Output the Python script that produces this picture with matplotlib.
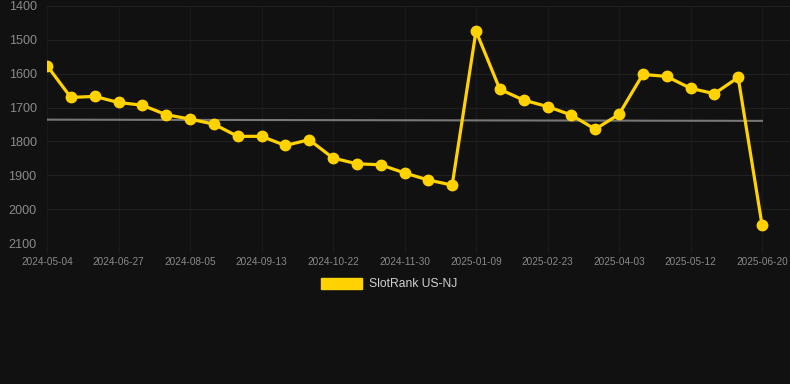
import numpy as np
import matplotlib.pyplot as plt

tick_labels = ["2024-05-04", "2024-06-27", "2024-08-05", "2024-09-13", "2024-10-22",
               "2024-11-30", "2025-01-09", "2025-02-23", "2025-04-03", "2025-05-12",
               "2025-06-20"]
rank = [1576, 1670, 1667, 1685, 1693, 1721, 1734, 1749, 1785, 1785,
        1812, 1795, 1849, 1866, 1869, 1893, 1914, 1929, 1474, 1646,
        1678, 1697, 1722, 1764, 1720, 1602, 1608, 1643, 1659, 1611, 2046]
series_name = "SlotRank US-NJ"

bg = "#111111"
gold = "#FFD200"
label_c = "#8a8a8a"

plt.rcParams['font.family'] = ['Liberation Sans', 'DejaVu Sans']

fig = plt.figure(figsize=(7.9, 3.84), dpi=100, facecolor=bg)
ax = fig.add_axes([47/790, 1-243/384, (790-47)/790, (243-6)/384], facecolor=bg)

x = np.arange(len(rank))
coef = np.polyfit(x, rank, 1)
ax.plot(x, np.polyval(coef, x), color="#777777", lw=1.5, zorder=2)
ax.plot(x, rank, color=gold, lw=2.3, marker='o', ms=7.5, zorder=3, label=series_name)

ax.set_ylim(2100, 1400)
ax.set_yticks(range(1400, 2101, 100))
ax.set_xlim(0, (790-47)/((762-47)/30))
ax.set_xticks(x[::3])
ax.set_xticklabels(tick_labels)

ax.yaxis.grid(True, color="#202020", lw=0.9, zorder=0)
ax.xaxis.grid(True, color="#1a1a1a", lw=0.9, zorder=0)
for s in ax.spines.values():
    s.set_visible(False)
ax.tick_params(axis='y', length=0, pad=7.5, labelsize=9.1, labelcolor=label_c)
ax.tick_params(axis='x', length=7, width=0.9, color="#1a1a1a", pad=3, labelsize=7.2, labelcolor=label_c)

leg = fig.legend(handles=[plt.Rectangle((0, 0), 1, 1, color=gold)], labels=[series_name],
                 loc='center', bbox_to_anchor=(389/790, 1-284/384), frameon=False,
                 handlelength=3.45, handleheight=1.0, fontsize=8.7, labelcolor="#d0d0d0",
                 handletextpad=0.55)

fig.savefig("out.png", dpi=100, facecolor=bg)
